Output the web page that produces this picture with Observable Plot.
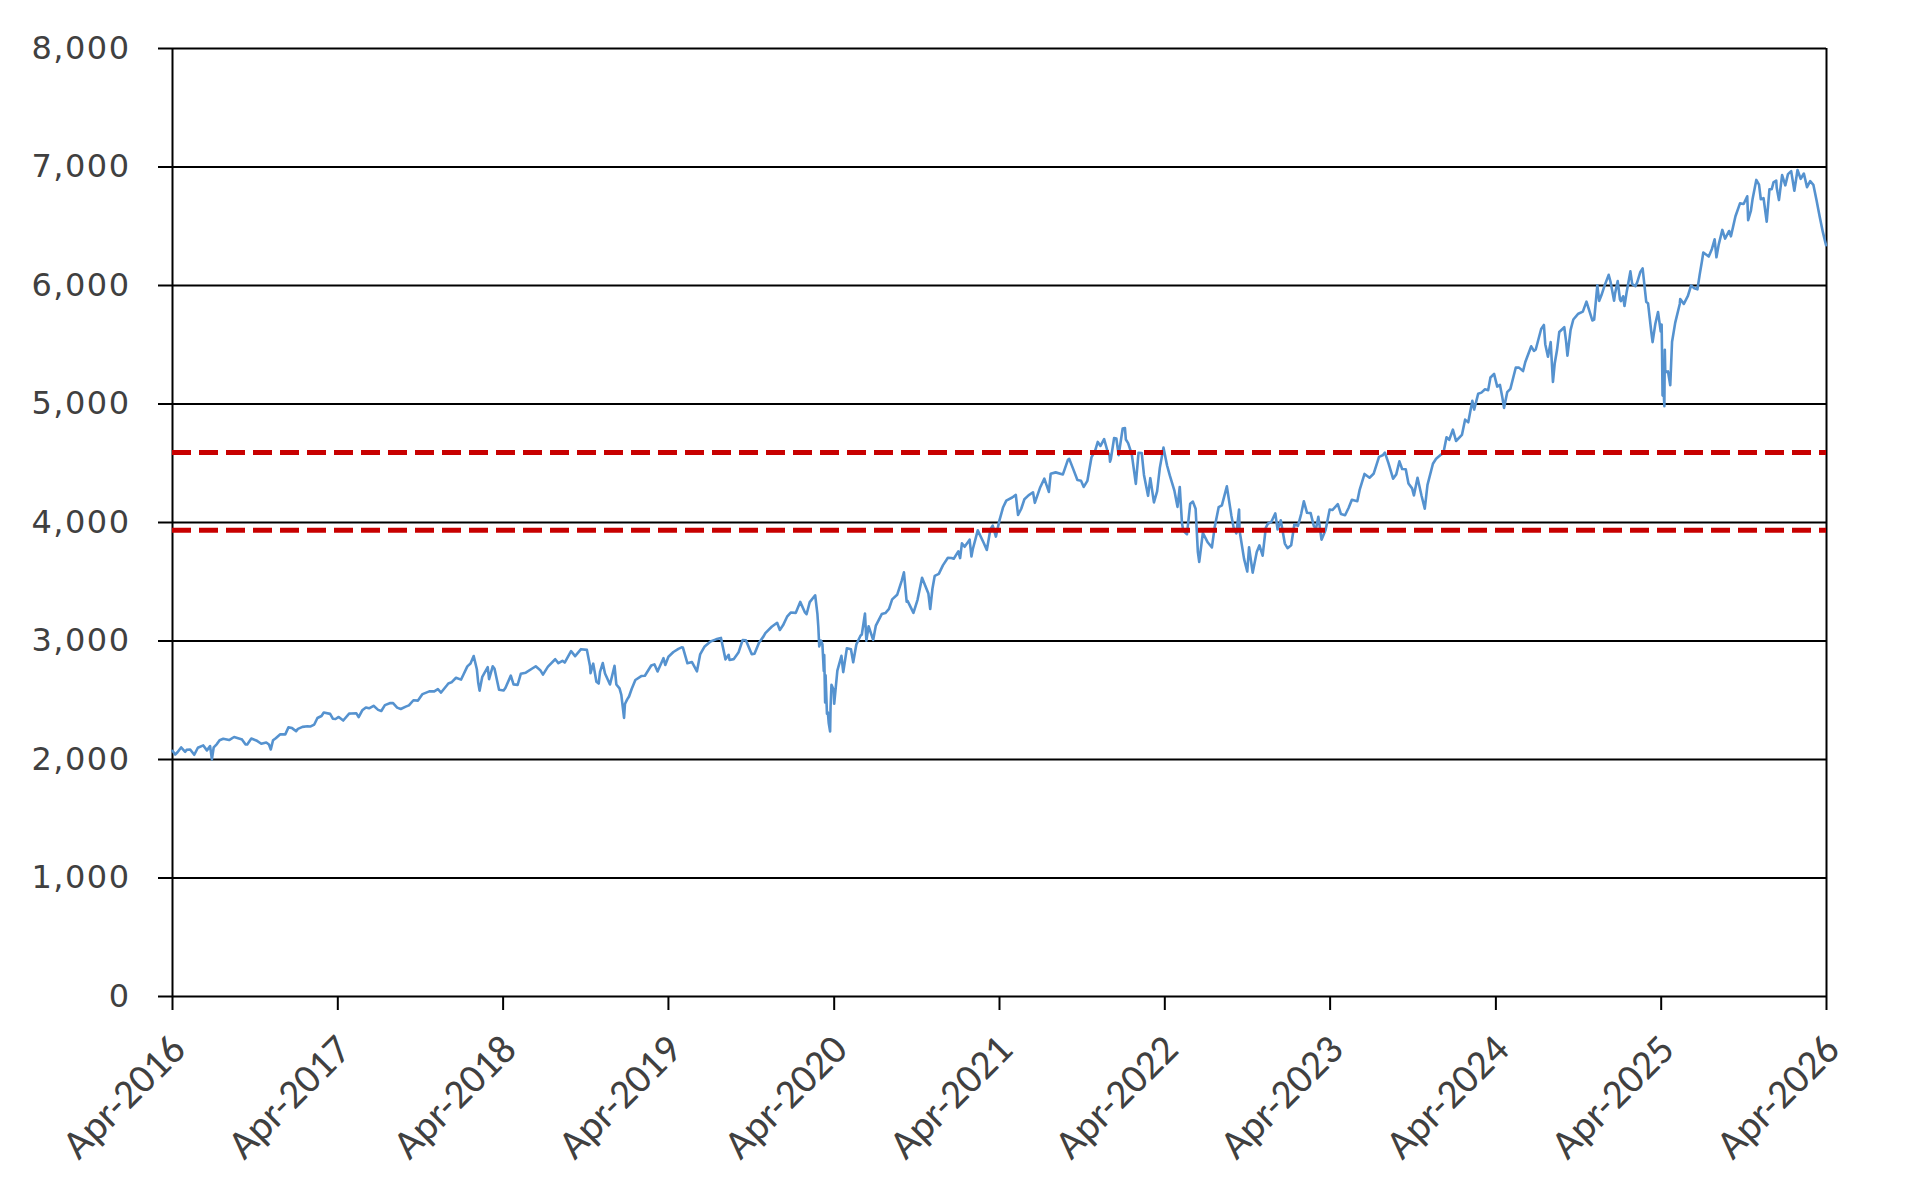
<!DOCTYPE html>
<html>
<head>
<meta charset="utf-8">
<script src="https://cdn.jsdelivr.net/npm/d3@7"></script>
<script src="https://cdn.jsdelivr.net/npm/@observablehq/plot@0.6"></script>
<style>
  html, body { margin: 0; padding: 0; background: #fff; overflow: hidden; }
  #chart svg { display: block; }
</style>
</head>
<body>
<div id="chart"></div>
<script>
// ---- data (index level by date) ----
const d2016 = ["04-01","04-07","04-12","04-20","04-29","05-02","05-10","05-19","05-27","06-08","06-16","06-23","06-27","07-01","07-08","07-14","07-22","08-04","08-15","08-31","09-01","09-09","09-13","09-22","10-03","10-14","10-25","10-31","11-04","11-09","11-15","11-25","12-06","12-13","12-21","12-30"];
const v2016 = [2073,2042,2061,2102,2065,2081,2084,2040,2099,2119,2077,2113,2001,2103,2130,2163,2175,2164,2190,2171,2170,2128,2127,2177,2161,2133,2143,2126,2085,2163,2180,2213,2212,2271,2265,2239];

const d2017 = ["01-03","01-13","01-24","01-31","02-08","02-15","02-24","03-01","03-15","03-21","03-27","04-03","04-13","04-26","05-01","05-12","05-17","05-25","06-02","06-09","06-19","06-29","07-06","07-14","07-26","08-01","08-10","08-18","08-29","09-05","09-15","09-25","10-05","10-20","10-31","11-08","11-15","11-28","12-01","12-08","12-18","12-29"];
const v2017 = [2258,2275,2280,2279,2295,2350,2367,2396,2385,2344,2342,2359,2329,2387,2388,2390,2357,2415,2439,2432,2453,2419,2409,2459,2477,2476,2438,2426,2446,2457,2500,2497,2552,2575,2575,2594,2565,2627,2642,2651,2690,2674];

const d2018 = ["01-03","01-12","01-19","01-26","02-02","02-05","02-08","02-14","02-26","03-01","03-09","03-13","03-23","04-02","04-06","04-18","04-24","05-03","05-10","05-21","06-06","06-12","06-22","06-28","07-09","07-25","08-01","08-10","08-15","08-29","09-07","09-20","10-03","10-10","10-11","10-17","10-24","10-29","11-01","11-07","11-12","11-23","12-03","12-07","12-14","12-18","12-24","12-26","12-31"];
const v2018 = [2713,2786,2810,2873,2762,2649,2581,2698,2779,2678,2786,2765,2588,2582,2604,2708,2634,2630,2723,2733,2772,2786,2754,2716,2784,2846,2813,2833,2818,2914,2872,2931,2925,2786,2728,2809,2656,2641,2740,2814,2726,2633,2790,2633,2600,2546,2351,2468,2507];

const d2019 = ["01-04","01-10","01-18","01-31","02-08","02-22","03-01","03-08","03-21","03-25","04-01","04-12","04-23","04-30","05-03","05-13","05-23","06-03","06-10","06-20","07-03","07-15","07-26","08-05","08-12","08-14","08-23","09-03","09-12","09-19","10-02","10-08","10-18","10-28","11-01","11-15","11-27","12-03","12-10","12-19","12-27"];
const v2019 = [2532,2597,2671,2704,2707,2793,2803,2743,2855,2798,2867,2907,2934,2946,2945,2812,2822,2744,2887,2954,2996,3014,3026,2845,2883,2840,2847,2906,3009,3006,2888,2893,2986,3039,3067,3120,3154,3093,3132,3205,3240];

const d2020 = ["01-07","01-17","01-27","01-31","02-07","02-19","02-24","02-26","02-28","03-03","03-06","03-09","03-10","03-12","03-13","03-16","03-18","03-20","03-23","03-24","03-26","03-31","04-01","04-08","04-17","04-21","04-29","05-08","05-13","05-20","05-29","06-01","06-08","06-11","06-16","06-26","07-02","07-15","07-23","07-31","08-07","08-18","08-28","09-02","09-08","09-10","09-23","10-02","10-12","10-26","10-30","11-04","11-09","11-18","11-27","12-08","12-16","12-21","12-31"];
const v2020 = [3237,3330,3244,3226,3328,3386,3226,3116,2954,3003,2972,2747,2882,2481,2711,2386,2398,2305,2237,2447,2630,2585,2470,2750,2875,2737,2939,2930,2820,2972,3044,3055,3232,3002,3125,3009,3130,3227,3236,3271,3351,3390,3508,3580,3332,3339,3237,3348,3534,3400,3270,3443,3550,3567,3638,3702,3701,3694,3756];

const d2021 = ["01-04","01-08","01-14","01-25","01-29","02-01","02-12","02-25","03-04","03-12","03-17","03-24","04-01","04-09","04-16","04-29","05-07","05-12","05-19","05-26","06-04","06-14","06-18","06-30","07-09","07-19","07-23","08-03","08-19","08-30","09-02","09-10","09-20","09-28","10-04","10-12","10-21","10-29","11-04","11-10","11-18","11-26","11-30","12-01","12-03","12-10","12-15","12-20","12-29"];
const v2021 = [3700,3824,3795,3855,3714,3774,3934,3829,3768,3943,3974,3881,4020,4129,4185,4211,4233,4063,4116,4196,4229,4255,4166,4298,4370,4258,4411,4423,4406,4529,4537,4459,4358,4352,4300,4351,4549,4605,4680,4646,4704,4595,4567,4513,4538,4712,4709,4568,4793];

const d2022 = ["01-03","01-05","01-10","01-18","01-24","01-27","02-02","02-09","02-14","02-23","02-28","03-08","03-15","03-21","03-29","04-06","04-12","04-22","04-29","05-04","05-09","05-12","05-20","05-27","06-02","06-08","06-13","06-16","06-24","07-05","07-14","07-20","07-29","08-05","08-16","08-26","08-31","09-06","09-12","09-13","09-23","09-30","10-04","10-12","10-21","10-27","11-03","11-10","11-15","11-22","12-01","12-06","12-13","12-22","12-28"];
const v2022 = [4797,4700,4670,4577,4410,4326,4589,4587,4401,4225,4374,4170,4262,4461,4632,4481,4397,4272,4132,4300,3991,3930,3901,4158,4176,4116,3750,3667,3912,3831,3790,3959,4130,4145,4305,4058,3955,3908,4110,3932,3693,3586,3791,3577,3752,3807,3720,3956,3992,4004,4077,3941,4019,3822,3783];

const d2023 = ["01-05","01-12","01-20","01-27","02-02","02-09","02-17","02-24","03-01","03-06","03-13","03-22","03-31","04-06","04-18","04-25","05-04","05-12","05-19","05-31","06-05","06-16","06-27","07-06","07-18","07-26","07-31","08-08","08-18","08-25","09-01","09-07","09-15","09-21","09-29","10-03","10-11","10-20","10-27","11-02","11-14","11-21","11-30","12-07","12-14","12-20","12-28"];
const v2023 = [3808,3983,3972,4071,4179,4082,4079,3970,3951,4048,3855,3937,4109,4105,4155,4071,4061,4124,4192,4180,4273,4410,4378,4411,4554,4567,4589,4499,4370,4406,4516,4451,4450,4330,4288,4229,4377,4224,4117,4317,4496,4538,4568,4585,4719,4698,4783];

const d2024 = ["01-04","01-17","01-24","01-31","02-09","02-13","02-22","02-29","03-08","03-15","03-20","03-28","04-04","04-10","04-15","04-19","04-26","05-03","05-15","05-22","05-31","06-05","06-18","06-24","06-28","07-10","07-16","07-19","07-25","07-31","08-05","08-09","08-14","08-19","08-30","09-03","09-06","09-13","09-19","09-30","10-10","10-18","10-31","11-04","11-11","11-15","11-20","11-27","12-06","12-10","12-18","12-20","12-26","12-31"];
const v2024 = [4688,4739,4868,4846,5027,4953,5087,5096,5124,5117,5224,5254,5147,5161,5062,4967,5100,5128,5308,5307,5278,5354,5487,5448,5460,5633,5667,5505,5399,5522,5186,5344,5455,5608,5648,5529,5408,5626,5713,5762,5780,5864,5705,5712,6001,5870,5917,5999,6090,6034,5872,5930,6037,5882];

const d2025 = ["01-02","01-07","01-10","01-15","01-23","01-27","02-03","02-07","02-14","02-19","02-27","03-03","03-10","03-13","03-19","03-25","03-31","04-02","04-03","04-04","04-07","04-08","04-09","04-10","04-16","04-21","04-25","05-02","05-12","05-13","05-21","05-30","06-06","06-13","06-20","06-25","06-30","07-03","07-15","07-22","07-28","08-01","08-06","08-14","08-20","08-29","09-02","09-12","09-22","09-30","10-08","10-10","10-16","10-20","10-28","11-03","11-07","11-13","11-20","11-26","12-01","12-05","12-11","12-12","12-17","12-24","12-31"];
const v2025 = [5868,5909,5827,5950,6119,6012,5994,6026,6115,6144,5861,5850,5614,5522,5675,5776,5612,5670,5397,5074,5062,4982,5457,5268,5275,5158,5525,5687,5844,5886,5845,5912,6000,5977,5968,6092,6205,6279,6244,6309,6390,6238,6345,6469,6396,6460,6415,6584,6693,6688,6753,6552,6629,6735,6891,6851,6728,6737,6538,6812,6812,6870,6886,6827,6721,6932,6845];

const d2026 = ["01-06","01-13","01-20","01-27","02-03","02-10","02-17","02-24","03-03","03-10","03-17","03-24","03-31"];
const v2026 = [6940,6965,6800,6975,6900,6945,6830,6880,6850,6720,6580,6450,6340];

const refLevels = [4590, 3935];
const yTicks = [0, 1000, 2000, 3000, 4000, 5000, 6000, 7000, 8000];
const xTickDates = ["2016-04-01","2017-04-01","2018-04-01","2019-04-01","2020-04-01","2021-04-01","2022-04-01","2023-04-01","2024-04-01","2025-04-01","2026-04-01"];

// ---- build table ----
const years = [
  [2016, d2016, v2016], [2017, d2017, v2017], [2018, d2018, v2018], [2019, d2019, v2019],
  [2020, d2020, v2020], [2021, d2021, v2021], [2022, d2022, v2022], [2023, d2023, v2023],
  [2024, d2024, v2024], [2025, d2025, v2025], [2026, d2026, v2026]
];
const series = d3.sort(
  years.flatMap(([yr, ds, vs]) => ds.map((d, i) => ({date: new Date(`${yr}-${d}`), value: vs[i]}))),
  d => d.date
);
const xTicks = xTickDates.map(d => new Date(d));
const xDomain = [xTicks[0], xTicks[xTicks.length - 1]];

const W = 1918, H = 1198;
const chart = Plot.plot({
  width: W,
  height: H,
  marginLeft: 172,
  marginRight: 92,
  marginTop: 48,
  marginBottom: H - 996,
  style: {background: "#fff", overflow: "visible"},
  x: {type: "utc", domain: xDomain},
  y: {domain: [0, 8000]},
  marks: [
    Plot.ruleY(yTicks, {stroke: "#000", strokeWidth: 2}),
    Plot.ruleX(xDomain, {stroke: "#000", strokeWidth: 2}),
    Plot.axisY(yTicks, {
      tickSize: 14, tickPadding: 28,
      tickFormat: d3.format(","),
      fontSize: 32, fontFamily: "Verdana, 'DejaVu Sans', sans-serif",
      fill: "#404040", stroke: "#000", strokeWidth: 2,
      label: null
    }),
    // x tick marks
    Plot.axisX(xTicks, {
      tickSize: 14, tickFormat: () => "",
      stroke: "#000", strokeWidth: 2, label: null
    }),
    // x tick labels
    Plot.axisX(xTicks, {
      tickSize: 0, tickPadding: 46, tickRotate: -45, dx: 6,
      tickFormat: d3.utcFormat("%b-%Y"),
      fontSize: 41, fontFamily: "Carlito, Calibri, Lato, sans-serif",
      fill: "#404040", stroke: "none", label: null
    }),
    Plot.lineY(series, {x: "date", y: "value", stroke: "#5592cf", strokeWidth: 2.6}),
    Plot.ruleY(refLevels, {stroke: "#c80000", strokeWidth: 5, strokeDasharray: "19,8"})
  ]
});
d3.select(chart).selectAll('g[aria-label="y-axis tick label"] text').style("letter-spacing", "1.5px");
document.getElementById("chart").appendChild(chart);
</script>
</body>
</html>
